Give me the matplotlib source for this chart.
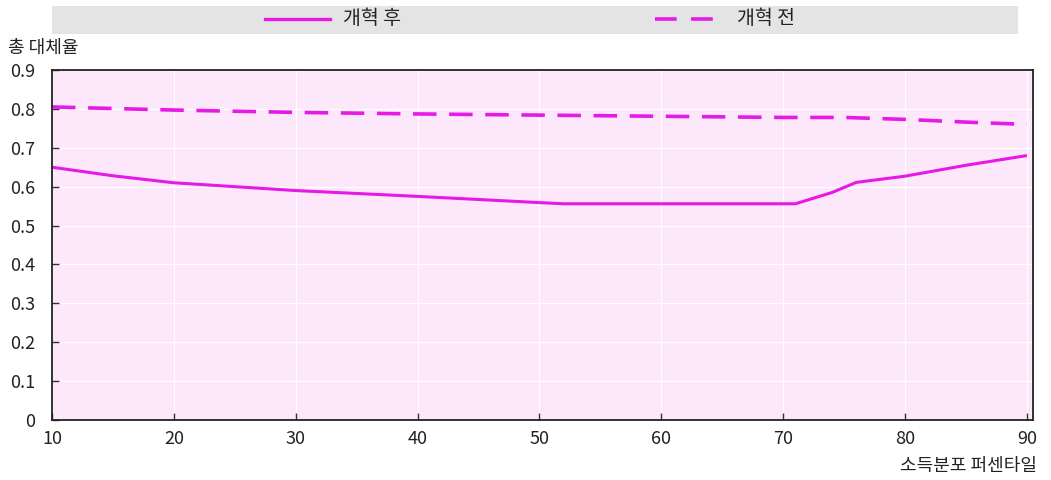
import matplotlib
matplotlib.use("Agg")
import matplotlib.pyplot as plt
from matplotlib.lines import Line2D
from matplotlib.patches import Rectangle

plt.rcParams['font.family'] = ['Noto Sans CJK KR', 'DejaVu Sans']

after_x = [10, 15, 20, 30, 40, 50, 52, 60, 70, 71, 74, 76, 80, 85, 90]
after_y = [0.650, 0.628, 0.610, 0.590, 0.575, 0.559, 0.556, 0.556, 0.556, 0.556, 0.585, 0.611, 0.627, 0.655, 0.680]
before_x = [10, 20, 30, 40, 50, 60, 70, 75, 80, 85, 90]
before_y = [0.805, 0.797, 0.791, 0.787, 0.784, 0.781, 0.778, 0.778, 0.773, 0.766, 0.760]

xticks = [10, 20, 30, 40, 50, 60, 70, 80, 90]
yticks = [0, 0.1, 0.2, 0.3, 0.4, 0.5, 0.6, 0.7, 0.8, 0.9]
ytick_labels = ['0', '0.1', '0.2', '0.3', '0.4', '0.5', '0.6', '0.7', '0.8', '0.9']
series_labels = ['개혁 후', '개혁 전']

color = '#e619e6'
fig = plt.figure(figsize=(10.51, 4.8), dpi=100)
ax = fig.add_axes([52/1051, 60/480, (1033-52)/1051, 350/480])
ax.set_facecolor('#fde8fb')
ax.plot(after_x, after_y, color=color, lw=2.2, solid_capstyle='butt')
ax.plot(before_x, before_y, color=color, lw=2.6, dashes=(6.5, 3.5))
ax.set_xlim(10, 90.5)
ax.set_ylim(0, 0.9)
ax.set_xticks(xticks)
ax.set_xticklabels([str(t) for t in xticks])
ax.set_yticks(yticks)
ax.set_yticklabels(ytick_labels)
ax.grid(True, color='white', lw=0.8)
ax.set_axisbelow(True)
for s in ax.spines.values():
    s.set_color('#222222')
    s.set_linewidth(1.3)
ax.tick_params(axis='both', direction='in', length=5, width=1, color='#333333',
               labelsize=13, labelcolor='#222222')
ax.tick_params(axis='x', pad=7)
ax.tick_params(axis='y', pad=12)

fig.text(8/1051, 1 - 48/480, '총 대체율', fontsize=13, va='center', ha='left', color='#222222')
fig.text(1037/1051, 1 - 466/480, '소득분포 퍼센타일', fontsize=13, va='center', ha='right', color='#222222')

# legend band
fig.patches.append(Rectangle((52/1051, 1 - 34/480), (1018-52)/1051, 28/480,
                             transform=fig.transFigure, facecolor='#e4e4e4', edgecolor='none'))
ly = 1 - 19/480
fig.add_artist(Line2D([265/1051, 330/1051], [ly, ly], transform=fig.transFigure, color=color, lw=2.4))
fig.text(343/1051, ly, series_labels[0], fontsize=14, va='center', ha='left', color='#222222')
fig.add_artist(Line2D([655/1051, 720/1051], [ly, ly], transform=fig.transFigure, color=color, lw=2.6, dashes=(6, 4)))
fig.text(737/1051, ly, series_labels[1], fontsize=14, va='center', ha='left', color='#222222')

fig.savefig('out.png', dpi=100)
